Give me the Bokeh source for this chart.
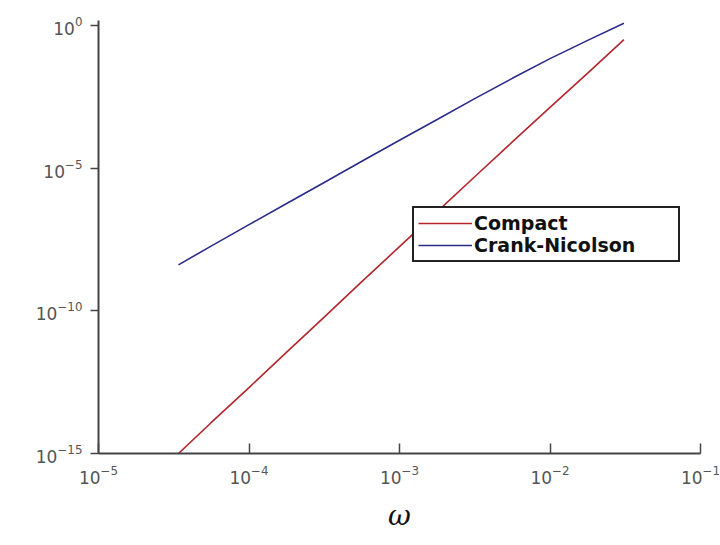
from bokeh.plotting import figure
from bokeh.models import Legend, LegendItem, FixedTicker, Range1d
from bokeh.embed import file_html
from bokeh.resources import INLINE

omega = [3.4e-5, 5.6e-5, 1e-4, 1.78e-4, 3.16e-4, 5.62e-4, 1e-3, 1.78e-3,
         3.16e-3, 5.62e-3, 1e-2, 1.78e-2, 3.1e-2]
compact = [1e-15, 1.2e-14, 2.05e-13, 3.55e-12, 6.0e-11, 1.05e-9, 1.78e-8,
           3.0e-7, 5.0e-6, 8.3e-5, 1.35e-3, 2.14e-2, 0.32]
crank_nicolson = [4.1e-9, 1.86e-8, 1.05e-7, 5.75e-7, 3.16e-6, 1.74e-5, 9.5e-5,
                  5.1e-4, 2.75e-3, 1.41e-2, 6.9e-2, 0.302, 1.2]
x_ticks = [1e-5, 1e-4, 1e-3, 1e-2, 1e-1]
y_ticks = [1e-15, 1e-10, 1e-5, 1e0]

p = figure(width=720, height=545, x_axis_type="log", y_axis_type="log",
           output_backend="svg", toolbar_location=None,
           x_range=Range1d(1e-5, 1e-1), y_range=Range1d(1e-15, 1.5),
           min_border_left=98, min_border_right=20, min_border_top=20,
           min_border_bottom=92)
p.outline_line_color = None
p.xgrid.visible = False
p.ygrid.visible = False

r1 = p.line(omega, compact, line_color="#b3262b", line_width=1.6)
r2 = p.line(omega, crank_nicolson, line_color="#2b2b8c", line_width=1.6)

p.xaxis.ticker = FixedTicker(ticks=x_ticks)
p.yaxis.ticker = FixedTicker(ticks=y_ticks)
for ax in (p.xaxis[0], p.yaxis[0]):
    ax.axis_line_color = "#444444"
    ax.axis_line_width = 2
    ax.major_tick_line_color = "#444444"
    ax.major_tick_line_width = 1.5
    ax.minor_tick_line_color = None
    ax.major_label_text_font = "DejaVu Sans"
    ax.major_label_text_font_size = "17px"
    ax.major_label_text_color = "#555555"
p.xaxis.major_tick_in = 10
p.xaxis.major_tick_out = 0
p.xaxis.major_label_standoff = 11
p.yaxis.major_tick_in = 0
p.yaxis.major_tick_out = 8
p.yaxis.major_label_standoff = 8

p.xaxis.axis_label = "ω"
p.xaxis.axis_label_text_font = "DejaVu Serif"
p.xaxis.axis_label_text_font_style = "italic"
p.xaxis.axis_label_text_font_size = "28px"
p.xaxis.axis_label_text_color = "#111111"
p.xaxis.axis_label_standoff = 12

legend = Legend(items=[LegendItem(label="Compact", renderers=[r1]),
                       LegendItem(label="Crank-Nicolson", renderers=[r2])],
                location=(314, 191))
legend.border_line_color = "#222222"
legend.border_line_alpha = 1.0
legend.border_line_width = 2
legend.label_text_font = "DejaVu Sans"
legend.label_text_font_style = "bold"
legend.label_text_font_size = "19px"
legend.label_text_color = "#111111"
legend.glyph_width = 54
legend.glyph_height = 22
legend.label_height = 22
legend.label_width = 200
legend.label_standoff = 2
legend.spacing = 0
legend.padding = 4
legend.margin = 0
legend.background_fill_alpha = 1
p.add_layout(legend)

open("out.html", "w").write(file_html(p, INLINE))
